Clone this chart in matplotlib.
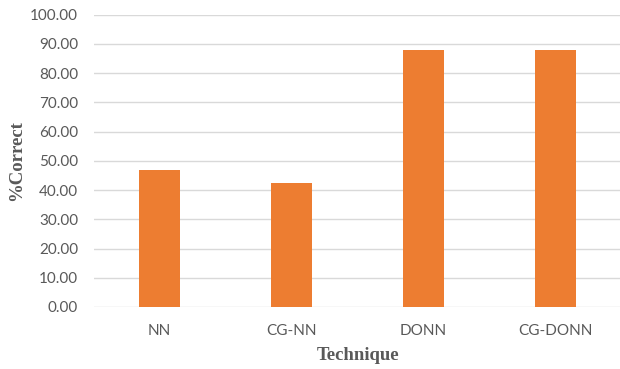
import matplotlib
matplotlib.use("Agg")
import matplotlib.pyplot as plt

techniques = ["NN", "CG-NN", "DONN", "CG-DONN"]
pct_correct = [47.0, 42.4, 87.8, 87.8]
y_ticks = [0, 10, 20, 30, 40, 50, 60, 70, 80, 90, 100]

fig = plt.figure(figsize=(6.2, 3.69), dpi=100)
W, H = 620, 369
left, right, bottom, top = 93.5, 621.5, 307.0, 14.7
ax = fig.add_axes([left / W, 1 - bottom / H, (right - left) / W, (bottom - top) / H])

x = list(range(len(techniques)))
ax.bar(x, pct_correct, width=0.31, color="#ED7D31", zorder=3)

ax.set_xlim(-0.5, len(techniques) - 0.5)
ax.set_ylim(0, 100)
ax.set_yticks(y_ticks)
ax.set_yticklabels([f"{v:.2f}" for v in y_ticks])
ax.set_xticks(x)
ax.set_xticklabels(techniques)

ax.grid(axis="y", color="#d9d9d9", linewidth=1.0, zorder=0)
for s in ax.spines.values():
    s.set_visible(False)
ax.tick_params(length=0, colors="#595959", labelsize=11)
for lab in ax.get_xticklabels() + ax.get_yticklabels():
    lab.set_family("Lato")
ax.tick_params(axis="y", pad=11)
ax.tick_params(axis="x", pad=12)

ax.set_xlabel("Technique", family="Liberation Serif", fontweight="bold",
              fontsize=13.5, color="#595959")
ax.set_ylabel("%Correct", family="Liberation Serif", fontweight="bold",
              fontsize=13.5, color="#595959")
ax_w = right - left
ax_h = bottom - top
ax.yaxis.set_label_coords((17 - left) / ax_w, (bottom - 161) / ax_h)
ax.xaxis.set_label_coords((358 - left) / ax_w, (bottom - 355) / ax_h)
ax.xaxis.label.set_va("center")
ax.yaxis.label.set_va("center")

fig.savefig("out.png", dpi=100)
